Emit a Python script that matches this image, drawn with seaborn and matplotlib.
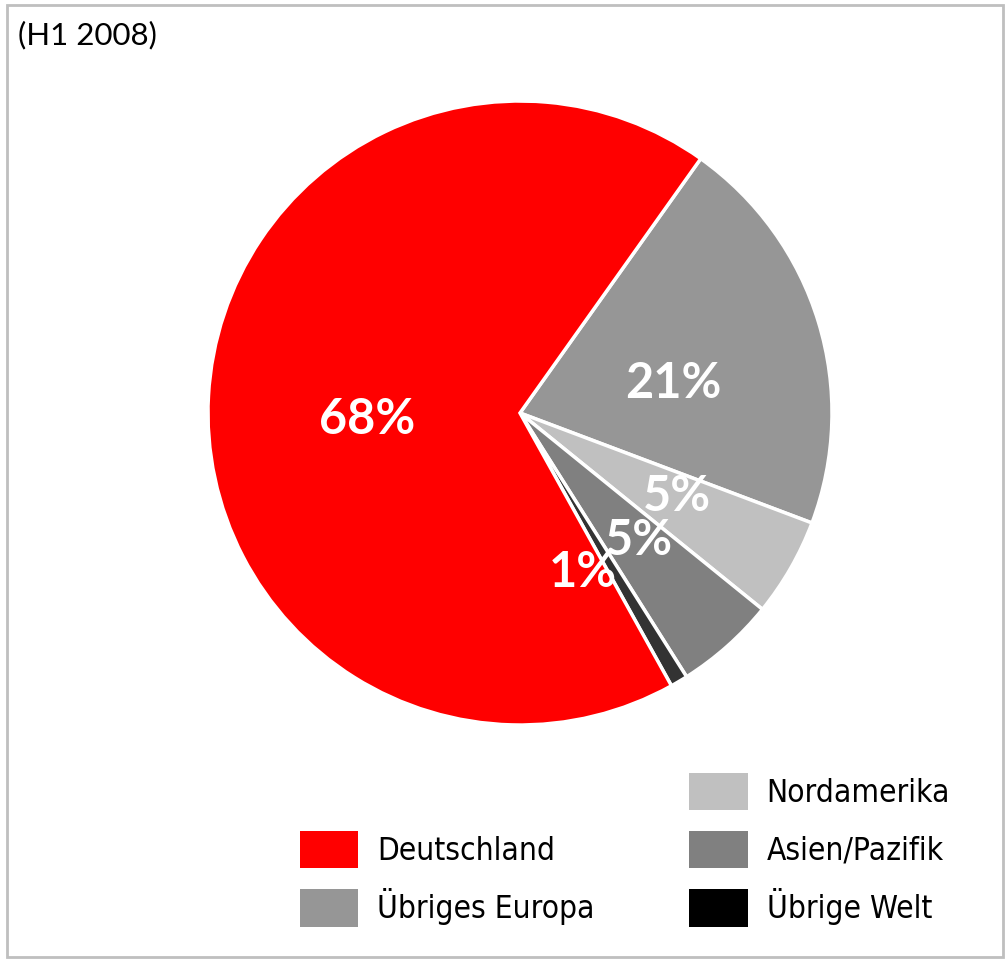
import numpy as np
import seaborn as sns
import matplotlib.pyplot as plt
import matplotlib.patches as mpatches
from matplotlib.font_manager import FontProperties

# shares (drawn clockwise starting with Übriges Europa)
regions = ["Übriges Europa", "Nordamerika", "Asien/Pazifik", "Übrige Welt", "Deutschland"]
shares = [20.9, 5.1, 5.2, 0.9, 67.9]
pct_labels = ["21%", "5%", "5%", "1%", "68%"]
colors = ["#969696", "#c0c0c0", "#808080", "#333333", "#ff0000"]

# legend order as in the original (first cell empty)
legend_names = ["", "Deutschland", "Übriges Europa", "Nordamerika", "Asien/Pazifik", "Übrige Welt"]
legend_colors = ["none", "#ff0000", "#969696", "#c0c0c0", "#808080", "#000000"]

# label placement (fraction of radius, angle shift in degrees, clockwise)
label_r = [0.50, 0.57, 0.56, 0.55, 0.49]
label_shift = [6, -1.7, -1.3, 9, -5.7]

sns.set_theme(style="white")
plt.rcParams["font.family"] = ["Lato", "DejaVu Sans"]
plt.rcParams["text.color"] = "black"

fig = plt.figure(figsize=(10.08, 9.59), dpi=100)
ax = fig.add_axes([208 / 1008, 234 / 959, 624 / 1008, 624 / 959])

wedges, _ = ax.pie(shares, colors=colors, startangle=54.6, counterclock=False,
                   radius=1, wedgeprops=dict(edgecolor="white", linewidth=2.5))
ax.set_xlim(-1, 1)
ax.set_ylim(-1, 1)
ax.set_aspect("equal")
ax.axis("off")

for w, txt, r, sh in zip(wedges, pct_labels, label_r, label_shift):
    mid = np.deg2rad((w.theta1 + w.theta2) / 2 - sh)
    ax.text(r * np.cos(mid), r * np.sin(mid), txt, ha="center", va="center",
            color="white", fontsize=35, fontweight="bold")

fig.text(18 / 1008, 1 - 35 / 959, "(H1 2008)", fontsize=22.5, va="center", ha="left",
         color="black")

handles = [mpatches.Patch(facecolor=c, edgecolor="none", label=n)
           for n, c in zip(legend_names, legend_colors)]
leg_font = FontProperties(family="DejaVu Sans", stretch="condensed", size=22.7)
fig.legend(handles=handles, ncol=2, loc="upper left", frameon=False,
           bbox_to_anchor=(300 / 1008, 1 - 773 / 959), borderaxespad=0, borderpad=0,
           prop=leg_font, labelcolor="black", handlelength=1.85, handleheight=1.45,
           handletextpad=0.6, columnspacing=3.0, labelspacing=0.64)

fig.patches.append(mpatches.Rectangle((7 / 1008, 2 / 959), 996 / 1008, 952 / 959,
                                      transform=fig.transFigure, fill=False,
                                      edgecolor="#bfbfbf", linewidth=2))

fig.savefig("out.png", dpi=100, facecolor="white")
